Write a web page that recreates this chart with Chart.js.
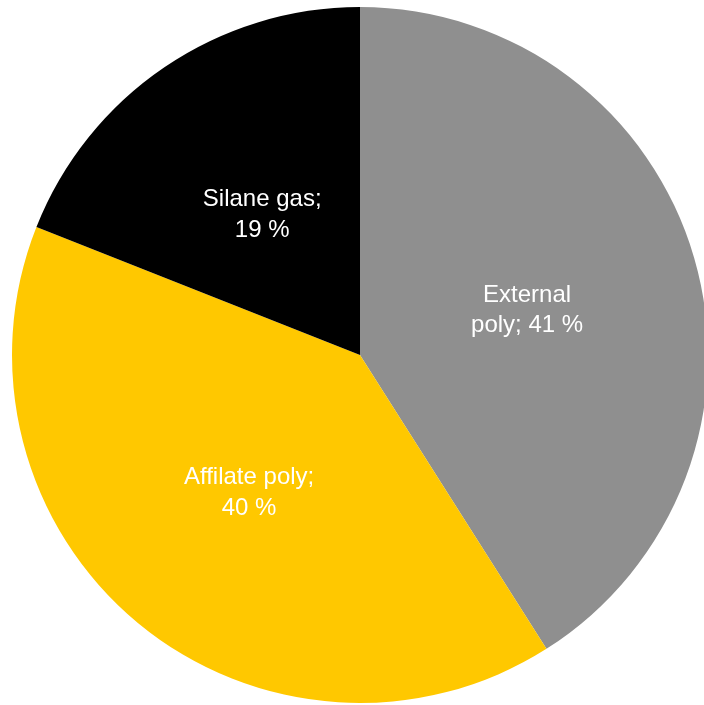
<!DOCTYPE html>
<html>
<head>
<meta charset="utf-8">
<script src="https://cdn.jsdelivr.net/npm/chart.js@4/dist/chart.umd.min.js"></script>
<style>
  html, body { margin: 0; padding: 0; background: #ffffff; overflow: hidden; }
  #wrap { position: relative; width: 720px; height: 710px; }
</style>
</head>
<body>
<div id="wrap"><canvas id="pie"></canvas></div>
<script>
// Share of supply by source, in percent
const categories = ['External poly', 'Affilate poly', 'Silane gas'];
const shares = [41, 40, 19];
const sliceColors = ['#8f8f8f', '#ffc800', '#000000'];
// Data label text, split into lines as shown on the slices
const labelLines = [
  ['External', 'poly; 41 %'],
  ['Affilate poly;', '40 %'],
  ['Silane gas;', '19 %']
];

// Writes the two-line label at mid-radius of each slice
const sliceLabels = {
  id: 'sliceLabels',
  afterDatasetsDraw(chart) {
    const { ctx } = chart;
    const meta = chart.getDatasetMeta(0);
    ctx.save();
    ctx.fillStyle = '#ffffff';
    ctx.font = '24px "Liberation Sans", Arial, sans-serif';
    ctx.textAlign = 'center';
    ctx.textBaseline = 'middle';
    const lineH = 30.5;
    meta.data.forEach((arc, i) => {
      const p = arc.getProps(['x', 'y', 'startAngle', 'endAngle', 'outerRadius'], true);
      const mid = (p.startAngle + p.endAngle) / 2;
      const r = p.outerRadius * 0.5;
      const cx = p.x + Math.cos(mid) * r;
      const cy = p.y + Math.sin(mid) * r + 4;
      const lines = labelLines[i];
      const top = cy - (lines.length - 1) * lineH / 2;
      lines.forEach((t, k) => ctx.fillText(t, cx, top + k * lineH));
    });
    ctx.restore();
  }
};

new Chart(document.getElementById('pie'), {
  type: 'pie',
  data: {
    labels: categories,
    datasets: [{
      data: shares,
      backgroundColor: sliceColors,
      borderWidth: 0
    }]
  },
  options: {
    responsive: true,
    maintainAspectRatio: false,
    animation: false,
    layout: { padding: 7 },
    plugins: {
      legend: { display: false },
      tooltip: { enabled: false }
    }
  },
  plugins: [sliceLabels]
});
</script>
</body>
</html>
